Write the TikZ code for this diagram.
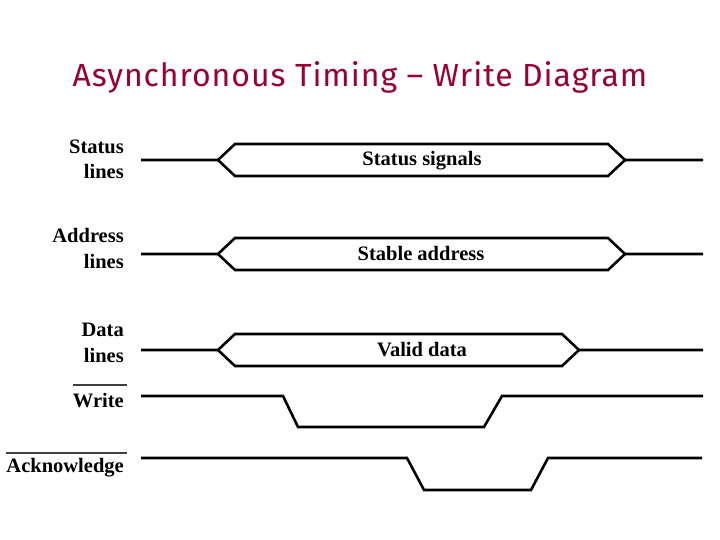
\documentclass[tikz,border=0pt]{standalone}
\usepackage{fontspec}
\usepackage{xcolor}
\setmainfont{Liberation Serif}
\newfontfamily\titlefont[LetterSpace=3]{Fira Sans}
\definecolor{titlered}{RGB}{153,0,51}
\usetikzlibrary{positioning}

\begin{document}
\begin{tikzpicture}[x=1pt,y=-1pt]
      \tikzstyle{sig} = [line width=2.6pt, line join=miter]
      \tikzstyle{ovl} = [line width=2pt, black!75]
      \tikzstyle{lbl} = [anchor=base east, inner sep=0pt, align=right,
      font=\bfseries\fontsize{20.5}{25.5}\selectfont]
      \tikzstyle{bustxt} = [anchor=base, inner sep=0pt,
      font=\bfseries\fontsize{20.5}{24}\selectfont]
      \useasboundingbox[fill=white] (0,0) rectangle (720,540);
      % TITLE
      \node[font=\titlefont\fontsize{32}{38}\selectfont, text=titlered,
      anchor=base] (title) at (360,87) {Asynchronous Timing – Write Diagram};
      % LABELS
      \node[lbl] (stat lbl) at (124,179) {Status\\lines};
      \node[lbl] (addr lbl) at (124,268) {Address\\lines};
      \node[lbl] (data lbl) at (124,362) {Data\\lines};
      \node[lbl] (wr lbl) at (124,407) {Write};
      \node[lbl] (ack lbl) at (124,472) {Acknowledge};
      \draw[ovl] ([yshift=8pt]wr lbl.north west) --
      ([xshift=3pt,yshift=8pt]wr lbl.north east);
      \draw[ovl] ([yshift=5pt]ack lbl.north west) --
      ([xshift=3pt,yshift=5pt]ack lbl.north east);
      % BUSES
      \foreach \y/\xr/\tx/\txt/\nm in {160/608/422/Status signals/stat,
        254/608/421/Stable address/addr, 350/562/422/Valid data/data} {
        \draw[sig] (141,\y) -- (218,\y) -- (235,\y-16) -- (\xr,\y-16)
        -- (\xr+17,\y) -- (703,\y);
        \draw[sig] (218,\y) -- (235,\y+16) -- (\xr,\y+16) -- (\xr+17,\y);
        \node[bustxt] (\nm) at (\tx,\y+6) {\txt};
      }
      % STROBES
      \draw[sig] (141,396) -- (283,396) -- (298,427) -- (484,427)
      -- (502,396) -- (703,396);
      \draw[sig] (141,458) -- (407,458) -- (424,490) -- (531,490)
      -- (548,458) -- (702,458);
    \end{tikzpicture}
\end{document}
